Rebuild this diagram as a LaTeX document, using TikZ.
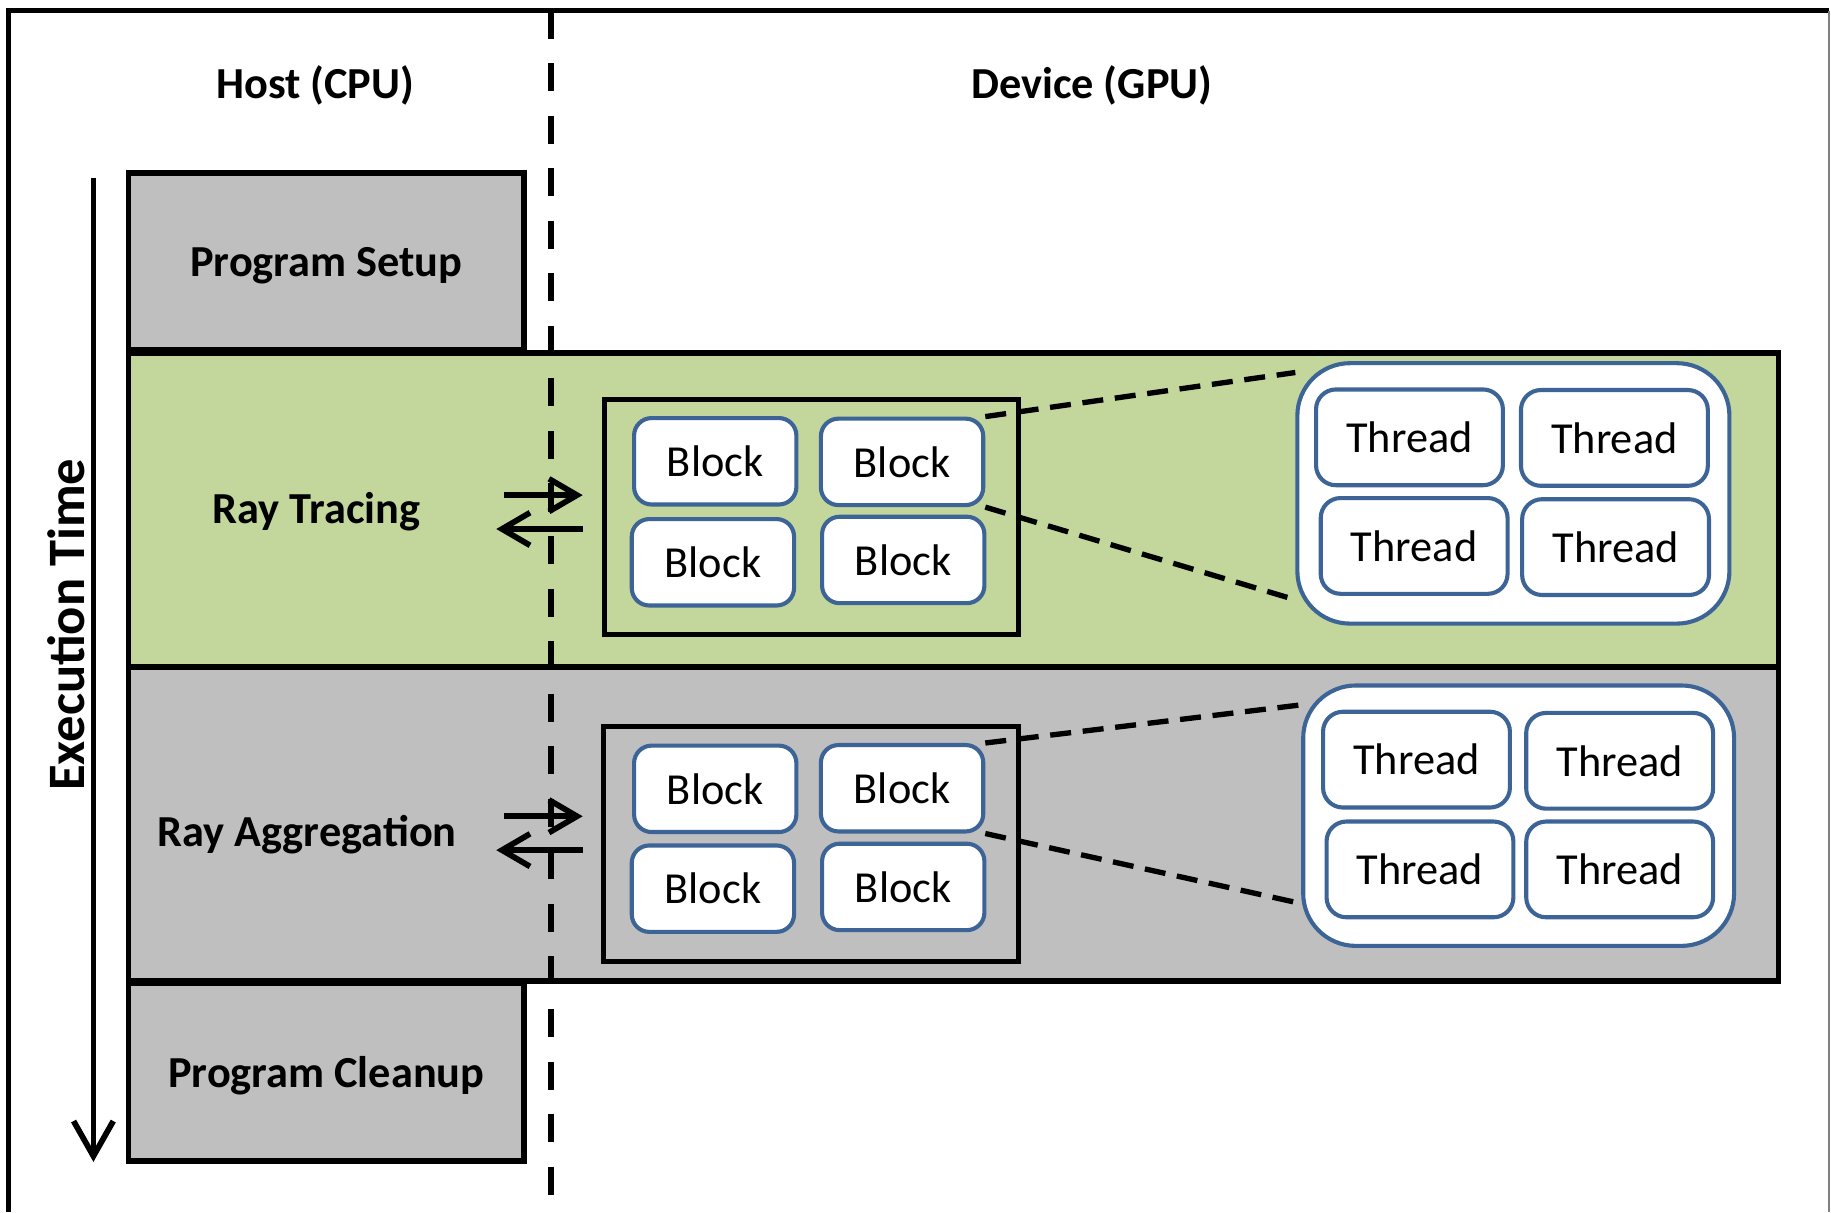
\documentclass[tikz,border=0pt]{standalone}
\usepackage{fontspec}
\setmainfont{Carlito}
\usetikzlibrary{arrows.meta}

\definecolor{bandgreen}{HTML}{C3D69B}
\definecolor{bandgray}{HTML}{BFBFBF}
\definecolor{boxblue}{HTML}{3D6496}

\tikzset{
	headtext/.style = {font=\bfseries\fontsize{10.8}{13}\selectfont, inner sep=0pt},
	stagebox/.style = {draw, line width=1.4pt, fill=bandgray, inner sep=0pt, text depth=0pt,
		font=\bfseries\fontsize{10.8}{13}\selectfont},
	groupbox/.style = {draw, line width=1.2pt, inner sep=0pt},
	poolbox/.style = {draw=boxblue, line width=1pt, fill=white, rounded corners=0.45cm, inner sep=0pt},
	blockbox/.style = {draw=boxblue, line width=1pt, fill=white, rounded corners=0.15cm,
		minimum width=1.39cm, minimum height=0.74cm, inner sep=0pt,
		font=\fontsize{10.8}{13}\selectfont},
	threadbox/.style = {blockbox, rounded corners=0.17cm, minimum width=1.60cm, minimum height=0.82cm},
	zoomline/.style = {line width=1.3pt, dash pattern=on 0.18cm off 0.1cm}
}

\begin{document}
\begin{tikzpicture}[>={Straight Barb[length=2.4mm,width=2.8mm]}]
	\useasboundingbox (0,0) rectangle (15.68,-10.38);
	\fill[white] (0,0) rectangle (15.68,-10.38);
	% frame
	\draw[line width=1.3pt] (0.07,-10.38) -- (0.07,-0.09) -- (15.66,-0.09);
	\draw[gray] (15.66,-0.09) -- (15.66,-10.38);

	\node[headtext] (host) at (2.70,-0.73) {Host (CPU)};
	\node[headtext] (device) at (9.35,-0.73) {Device (GPU)};

	% stages
	\node[stagebox, minimum width=3.39cm, minimum height=1.52cm] (setup) at (2.795,-2.24) {Program Setup};
	\node[stagebox, fill=bandgreen, minimum width=14.13cm, minimum height=2.69cm] (trace) at (8.165,-4.365) {};
	\node[stagebox, minimum width=14.13cm, minimum height=2.69cm] (aggr) at (8.165,-7.055) {};
	\node[stagebox, minimum width=3.39cm, minimum height=1.52cm] (cleanup) at (2.795,-9.18) {Program Cleanup};
	\node[headtext] (tracetext) at (2.71,-4.385) {Ray Tracing};
	\node[headtext] (aggrtext) at (2.63,-7.145) {Ray Aggregation};

	% time axis
	\coordinate (tstart) at (0.80,-1.52);
	\coordinate (tend) at (0.80,-9.95);
	\draw[->, line width=1.4pt, >={Straight Barb[length=3mm,width=3.4mm]}] (tstart) -- (tend);
	\node[headtext, font=\bfseries\fontsize{12.8}{15}\selectfont, rotate=90] (time) at (0.565,-5.35) {Execution Time};

	% host/device divider
	\coordinate (divtop) at (4.72,-0.09);
	\coordinate (divbot) at (4.72,-10.32);
	\draw[line width=1.6pt, dash pattern=on 0.24cm off 0.21cm] (divtop) -- (divbot);

	% transfers
	\foreach \n/\y in {t/-4.24, a/-6.99} {
		\coordinate (\n go) at (4.32,\y);
		\coordinate (\n gd) at (4.99,\y);
		\coordinate (\n bo) at (4.99,\y-0.29);
		\coordinate (\n bd) at (4.25,\y-0.29);
		\draw[->, line width=1.4pt] (\n go) -- (\n gd);
		\draw[->, line width=1.4pt] (\n bo) -- (\n bd);
	}

	% grids of blocks
	\node[groupbox, minimum width=3.54cm, minimum height=2.01cm] (tgrid) at (6.95,-4.425) {};
	\node[groupbox, minimum width=3.55cm, minimum height=2.01cm] (agrid) at (6.945,-7.225) {};
	\foreach \n/\x/\y in {tb1/6.125/-3.95, tb2/7.725/-3.955, tb3/6.105/-4.815, tb4/7.735/-4.795,
			ab1/6.125/-6.755, ab2/7.725/-6.75, ab3/6.105/-7.61, ab4/7.735/-7.595}
		\node[blockbox] (\n) at (\x,\y) {Block};

	% threads of one block
	\node[poolbox, minimum width=3.70cm, minimum height=2.23cm] (tpool) at (12.96,-4.225) {};
	\node[poolbox, minimum width=3.69cm, minimum height=2.23cm] (apool) at (13.005,-6.985) {};
	\foreach \n/\x/\y in {tt1/12.07/-3.745, tt2/13.825/-3.75, tt3/12.11/-4.675, tt4/13.835/-4.685,
			at1/12.13/-6.505, at2/13.87/-6.515, at3/12.16/-7.445, at4/13.87/-7.445}
		\node[threadbox] (\n) at (\x,\y) {Thread};

	\draw[zoomline] (tb2.north east) -- (tpool.151);
	\draw[zoomline] (tb2.south east) -- (tpool.206);
	\draw[zoomline] (ab2.north east) -- (apool.153);
	\draw[zoomline] (ab2.south east) -- (apool.202);
\end{tikzpicture}
\end{document}
